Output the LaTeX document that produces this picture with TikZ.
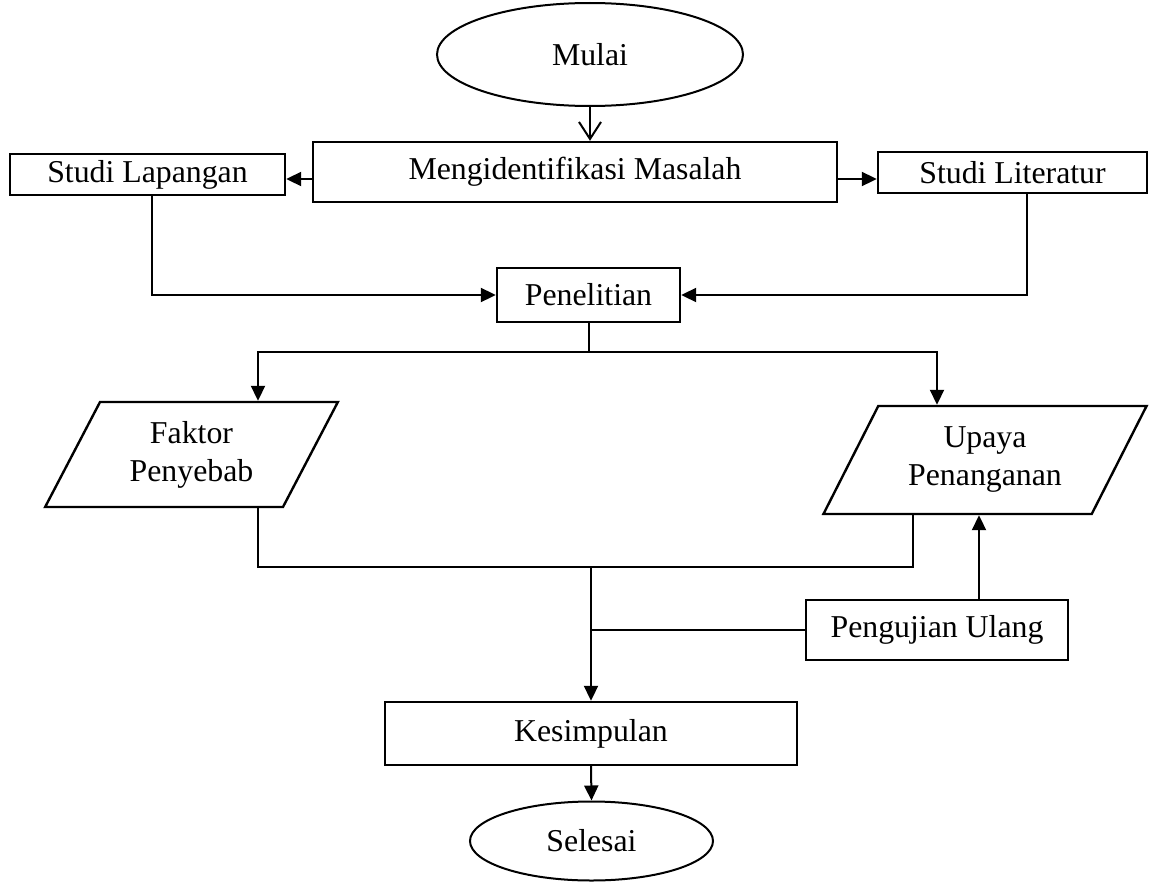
\documentclass[tikz,border=0pt]{standalone}
\usepackage{fontspec}
\setmainfont{Liberation Serif}
\usetikzlibrary{shapes.geometric, arrows.meta}

\begin{document}
\begin{tikzpicture}[x=1pt, y=-1pt,
  font=\fontsize{31.8pt}{38pt}\selectfont,
  box/.style={draw, rectangle, line width=2.4pt, inner sep=0pt},
  terminal/.style={draw, ellipse, line width=2pt, inner sep=0pt},
  data/.style={draw, trapezium, trapezium stretches=true, line width=2.4pt, inner sep=0pt, align=center},
  arrow/.style={line width=2pt, -{Triangle[length=15pt, width=14pt]}},
  openarrow/.style={line width=2pt, -{Straight Barb[length=17pt, width=22pt]}},
  line/.style={line width=2pt}]
\useasboundingbox (0,0) rectangle (1149,883);

%Start and end
\node[terminal, minimum width=306pt, minimum height=103pt] (mulai) at (590,54.5) {Mulai};
\node[terminal, minimum width=243pt, minimum height=79pt] (selesai) at (591.5,841) {Selesai};

%Problem and studies
\node[box, minimum width=524pt, minimum height=60pt] (ident) at (575,172) {Mengidentifikasi Masalah};
\node[box, minimum width=275pt, minimum height=41pt] (lapangan) at (147.5,174.5) {Studi Lapangan};
\node[box, minimum width=269pt, minimum height=41pt] (literatur) at (1012.5,172.5) {Studi Literatur};
\node[box, minimum width=183pt, minimum height=54pt] (penelitian) at (588.5,295) {Penelitian};

%Results
\node[data, trapezium left angle=61, trapezium right angle=119,
  minimum width=293pt, minimum height=105pt] (faktor) at (191.5,454.5) {Faktor\\Penyebab};
\node[data, trapezium left angle=59, trapezium right angle=121,
  minimum width=324pt, minimum height=108pt] (upaya) at (985,460) {Upaya\\Penanganan};
\node[box, minimum width=262pt, minimum height=60pt] (pengujian) at (937,630) {Pengujian Ulang};
\node[box, minimum width=412pt, minimum height=63pt] (kesimpulan) at (591,733.5) {Kesimpulan};

\coordinate (bagi) at (penelitian.south |- 0,352);
\coordinate (gabung) at (kesimpulan.north |- 0,567);

%Top part
\draw[openarrow] (mulai.south) -- (mulai.south |- ident.north);
\draw[arrow] (ident.west |- 0,179) -- (lapangan.east |- 0,179);
\draw[arrow] (ident.east |- 0,179) -- (literatur.west |- 0,179);
\draw[arrow] (lapangan.south -| 152,0) |- (penelitian.west);
\draw[arrow] (literatur.south -| 1027,0) |- (penelitian.east);

%Split
\draw[line] (penelitian.south) -- (bagi);
\draw[arrow] (bagi) -| (faktor.north -| 258,0);
\draw[arrow] (bagi) -| (upaya.north -| 937,0);

%Merge
\draw[line] (faktor.south -| 258,0) |- (gabung) -| (upaya.south -| 913,0);
\draw[line] (pengujian.west) -- (pengujian.west -| gabung);
\draw[arrow] (pengujian.north -| 979,0) -- (upaya.south -| 979,0);
\draw[arrow] (gabung) -- (kesimpulan.north);
\draw[arrow] (kesimpulan.south) -- (selesai.north);
\end{tikzpicture}
\end{document}
